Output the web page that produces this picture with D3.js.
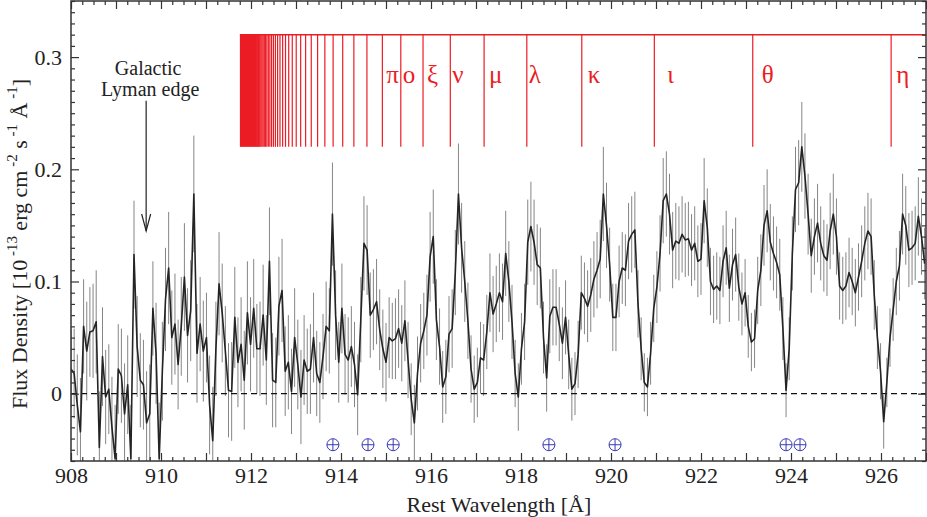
<!DOCTYPE html>
<html>
<head>
<meta charset="utf-8">
<script src="https://cdn.jsdelivr.net/npm/d3@7"></script>
<style>
body { margin: 0; background: #fff; }
svg { display: block; font-family: "Liberation Serif", "Times New Roman", serif; }
.axis path { display: none; }
.axis line { stroke: #333; stroke-width: 1.2; }
.axis text { font-size: 22px; fill: #222; font-family: "Liberation Serif", serif; }
</style>
</head>
<body>
<svg width="927" height="517"></svg>
<script>
// spectrum bins: 0.07 A wide starting at 908.0 A
// flux and error in units of 0.001 on the y axis (1e-16 erg/cm2/s/A)
var waveStart = 908.0, waveStep = 0.07;
var flux = [
  22, 18, -10, -34, 60, 38, 55, 56, 64, -48,
  33, -3, 4, -30, -58, 22, 16, -18, 8, -58,
  124, 42, 12, 8, -26, -18, 76, 36, -58, 20,
  84, 112, 50, 62, 26, 60, 104, 52, 74, 178,
  36, 62, 38, 50, -10, -42, 40, 98, 72, 38,
  3, 2, 68, 28, 44, 12, 72, 44, 76, 40,
  40, 70, 30, 118, 12, 10, 78, 92, 20, 28,
  2, 50, 26, -3, 30, 20, 22, 50, 18, 10,
  33, 60, 56, 160, 70, 28, 76, 35, 30, 42,
  26, -1, 66, 134, 128, 70, 75, 82, 57, 40,
  28, 50, 47, 49, 58, 45, 65, 30, -5, -26,
  18, 45, 56, 70, 122, 140, 66, 42, 6, 15,
  53, 58, 108, 178, 130, 100, 65, 22, 4, 10,
  32, 30, 55, 90, 71, 80, 90, 82, 125, 100,
  64, 18, -3, 40, 64, 135, 149, 135, 115, 112,
  50, 14, 69, 77, 77, 62, 45, 68, 35, 4,
  9, 35, 90, 85, 78, 88, 102, 110, 120, 178,
  150, 115, 68, 68, 100, 112, 110, 136, 142, 146,
  80, 40, 10, 6, 36, 76, 95, 125, 172, 178,
  160, 128, 136, 134, 142, 137, 138, 128, 134, 118,
  120, 172, 148, 100, 93, 96, 92, 118, 130, 94,
  115, 124, 95, 80, 90, 60, 46, 49, 92, 110,
  150, 163, 135, 125, 117, 106, 58, 3, 40, 125,
  182, 188, 220, 194, 160, 123, 140, 152, 134, 123,
  119, 145, 160, 140, 96, 92, 96, 108, 100, 90,
  104, 118, 134, 145, 140, 88, 50, 20, -25, 10,
  50, 75, 100, 114, 160, 150, 128, 130, 134, 158,
  140, 116
];
var fluxErr = [
  35, 40, 45, 48, 42, 44, 40, 42, 46, 50,
  44, 42, 40, 45, 48, 40, 42, 45, 44, 48,
  48, 45, 42, 40, 46, 44, 42, 45, 50, 44,
  46, 50, 42, 45, 40, 44, 48, 42, 45, 52,
  44, 42, 45, 40, 44, 48, 42, 46, 44, 40,
  42, 44, 45, 40, 42, 44, 46, 42, 44, 40,
  42, 45, 40, 48, 42, 40, 44, 46, 40, 42,
  38, 44, 40, 42, 40, 38, 40, 40, 38, 36,
  38, 40, 38, 46, 40, 36, 40, 36, 38, 36,
  38, 36, 38, 42, 40, 38, 36, 38, 36, 35,
  35, 36, 34, 36, 35, 34, 36, 34, 32, 34,
  33, 35, 34, 36, 40, 42, 36, 34, 32, 33,
  34, 35, 38, 45, 40, 36, 34, 30, 30, 31,
  32, 32, 33, 35, 34, 34, 35, 34, 38, 36,
  33, 30, 30, 32, 34, 38, 40, 38, 36, 36,
  32, 30, 33, 34, 34, 33, 32, 33, 31, 28,
  28, 30, 33, 32, 32, 33, 34, 34, 35, 42,
  38, 33, 30, 30, 32, 32, 32, 34, 34, 34,
  30, 28, 26, 26, 28, 30, 32, 34, 38, 38,
  36, 34, 34, 33, 34, 33, 33, 32, 33, 32,
  32, 38, 35, 30, 30, 30, 30, 32, 33, 30,
  32, 33, 30, 28, 30, 28, 26, 26, 30, 32,
  36, 37, 34, 33, 32, 32, 28, 24, 28, 33,
  38, 38, 40, 38, 36, 33, 34, 35, 33, 32,
  32, 34, 36, 34, 30, 30, 30, 31, 30, 30,
  30, 32, 33, 34, 34, 31, 28, 25, 24, 22,
  26, 28, 30, 31, 36, 35, 33, 33, 33, 35,
  34, 32
];

// Lyman series (rest wavelengths, A), n = 8 .. 50, and the series limit
var lymanLimit = 911.753;
var lymanLines = [
  926.225, 923.150, 920.963, 919.351, 918.129, 917.180, 916.429, 915.823, 915.329, 914.919,
  914.576, 914.286, 914.038, 913.825, 913.641, 913.480, 913.339, 913.214, 913.104, 913.005,
  912.917, 912.838, 912.767, 912.703, 912.644, 912.591, 912.542, 912.498, 912.457, 912.419,
  912.385, 912.353, 912.323, 912.296, 912.270, 912.246, 912.224, 912.203, 912.184, 912.166,
  912.149, 912.133, 912.118
];
var lymanNames = ["η", "θ", "ι", "κ", "λ", "μ", "ν", "ξ", "ο", "π"];
var lymanTop = 0.32, lymanBottom = 0.22;

// terrestrial (⊕) features
var earthWaves = [913.82, 914.60, 915.16, 918.62, 920.09, 923.89, 924.20];
var earthLevel = -0.0455;

// Galactic Lyman edge arrow
var edgeWave = 909.67, edgeArrowTop = 0.261, edgeArrowTip = 0.145;

var xTicks = [908, 910, 912, 914, 916, 918, 920, 922, 924, 926];
var yTicks = [0, 0.1, 0.2, 0.3];

var serif = "'Liberation Serif', 'Times New Roman', serif";

var svg = d3.select("svg"),
    margin = {top: 1, right: 1, bottom: 56, left: 71},
    width = +svg.attr("width") - margin.left - margin.right,
    height = +svg.attr("height") - margin.top - margin.bottom;

var x = d3.scaleLinear().domain([908, 927]).range([margin.left, margin.left + width]),
    y = d3.scaleLinear().domain([-0.06, 0.35]).range([margin.top + height, margin.top]);

var spec = flux.map(function(f, i) {
  return {w: waveStart + i * waveStep, f: f / 1000, e: fluxErr[i] / 1000};
});

svg.append("clipPath").attr("id", "plotclip")
  .append("rect")
    .attr("x", margin.left).attr("y", margin.top)
    .attr("width", width).attr("height", height);

var plot = svg.append("g").attr("clip-path", "url(#plotclip)");

// error bars
plot.selectAll(".err")
  .data(spec)
  .enter().append("line")
    .attr("class", "err")
    .attr("x1", function(d) { return x(d.w); })
    .attr("x2", function(d) { return x(d.w); })
    .attr("y1", function(d) { return y(d.f - d.e); })
    .attr("y2", function(d) { return y(d.f + d.e); })
    .attr("stroke", "#858585")
    .attr("stroke-width", 1);

// zero line
plot.append("line")
    .attr("x1", x(908)).attr("x2", x(927))
    .attr("y1", y(0)).attr("y2", y(0))
    .attr("stroke", "#111")
    .attr("stroke-width", 1.2)
    .attr("stroke-dasharray", "6,4");

// spectrum
plot.append("path")
    .datum(spec)
    .attr("fill", "none")
    .attr("stroke", "#242424")
    .attr("stroke-width", 1.6)
    .attr("stroke-linejoin", "round")
    .attr("d", d3.line().x(function(d) { return x(d.w); }).y(function(d) { return y(d.f); }));

// Lyman series markers
var red = "#ec1c24";
var lym = svg.append("g");
lym.append("rect")
    .attr("x", x(lymanLimit))
    .attr("y", y(lymanTop))
    .attr("width", x(lymanLines[lymanLines.length - 1]) - x(lymanLimit))
    .attr("height", y(lymanBottom) - y(lymanTop))
    .attr("fill", red);
lym.selectAll(".lyl")
  .data(lymanLines)
  .enter().append("line")
    .attr("x1", function(d) { return x(d); })
    .attr("x2", function(d) { return x(d); })
    .attr("y1", y(lymanTop))
    .attr("y2", y(lymanBottom))
    .attr("stroke", red)
    .attr("stroke-width", 1.2);
lym.append("line")
    .attr("x1", x(lymanLimit)).attr("x2", x(927))
    .attr("y1", y(lymanTop)).attr("y2", y(lymanTop))
    .attr("stroke", red)
    .attr("stroke-width", 1.5);
var greekDx = [5, 9, 13, 6, 2, 5, 2, 4, 2, 4];
lym.selectAll(".lyt")
  .data(lymanNames)
  .enter().append("text")
    .attr("x", function(d, i) { return x(lymanLines[i]) + greekDx[i]; })
    .attr("y", 83)
    .attr("fill", red)
    .attr("font-family", serif)
    .style("font-size", "25px")
    .text(function(d) { return d; });

// terrestrial symbols
var earth = svg.append("g").attr("stroke", "#3b3bb5").attr("stroke-width", 1).attr("fill", "none");
earthWaves.forEach(function(w) {
  var cx = x(w), cy = y(earthLevel), r = 6;
  earth.append("circle").attr("cx", cx).attr("cy", cy).attr("r", r);
  earth.append("line").attr("x1", cx - r).attr("x2", cx + r).attr("y1", cy).attr("y2", cy);
  earth.append("line").attr("x1", cx).attr("x2", cx).attr("y1", cy - r).attr("y2", cy + r);
});

// Galactic Lyman edge annotation
var ax = x(edgeWave);
svg.append("line")
    .attr("x1", ax).attr("x2", ax)
    .attr("y1", y(edgeArrowTop)).attr("y2", y(edgeArrowTip))
    .attr("stroke", "#222").attr("stroke-width", 1.2);
svg.append("path")
    .attr("d", "M" + (ax - 4.5) + "," + (y(edgeArrowTip) - 17) + "L" + ax + "," + y(edgeArrowTip) + "L" + (ax + 4.5) + "," + (y(edgeArrowTip) - 17))
    .attr("fill", "none").attr("stroke", "#222").attr("stroke-width", 1.2);
svg.append("text").attr("x", ax + 2).attr("y", 75).attr("text-anchor", "middle")
    .attr("font-family", serif)
    .style("font-size", "20px").attr("fill", "#222").text("Galactic");
svg.append("text").attr("x", ax + 4).attr("y", 96).attr("text-anchor", "middle")
    .attr("font-family", serif)
    .style("font-size", "20px").attr("fill", "#222").text("Lyman edge");

// axes (ticks point inward on all four sides)
var xMinor = d3.range(908 * 4, 927 * 4 + 1).map(function(k) { return k / 4; })
    .filter(function(v) { return v % 1 !== 0; });
var xMajor = d3.range(908, 928);
var yMinor = d3.range(-6, 36).map(function(k) { return k / 100; })
    .filter(function(v) { return Math.round(v * 100) % 10 !== 0; });

function axisGroup(tx, ty) {
  return svg.append("g").attr("class", "axis")
      .attr("transform", "translate(" + tx + "," + ty + ")");
}

axisGroup(0, margin.top + height)
    .call(d3.axisBottom(x).tickValues(xMajor).tickSize(-8).tickPadding(6)
      .tickFormat(function(d) { return xTicks.indexOf(d) >= 0 ? d : ""; }));
axisGroup(0, margin.top + height)
    .call(d3.axisBottom(x).tickValues(xMinor).tickSize(-4).tickFormat(""));
axisGroup(0, margin.top)
    .call(d3.axisTop(x).tickValues(xMajor).tickSize(-8).tickFormat(""));
axisGroup(0, margin.top)
    .call(d3.axisTop(x).tickValues(xMinor).tickSize(-4).tickFormat(""));

axisGroup(margin.left, 0)
    .call(d3.axisLeft(y).tickValues(yTicks).tickSize(-8).tickPadding(9)
      .tickFormat(function(d) { return d === 0 ? "0" : d3.format(".1f")(d); }));
axisGroup(margin.left, 0)
    .call(d3.axisLeft(y).tickValues(yMinor).tickSize(-4).tickFormat(""));
axisGroup(margin.left + width, 0)
    .call(d3.axisRight(y).tickValues(yTicks).tickSize(-8).tickFormat(""));
axisGroup(margin.left + width, 0)
    .call(d3.axisRight(y).tickValues(yMinor).tickSize(-4).tickFormat(""));

svg.selectAll(".axis").attr("font-family", serif).attr("font-size", 22);
svg.selectAll(".axis text").attr("font-family", serif);

// frame
svg.append("rect")
    .attr("x", margin.left).attr("y", margin.top)
    .attr("width", width).attr("height", height)
    .attr("fill", "none").attr("stroke", "#333").attr("stroke-width", 1.5);

// axis titles
svg.append("text")
    .attr("x", 499).attr("y", 512)
    .attr("text-anchor", "middle")
    .attr("font-family", serif)
    .style("font-size", "22px").attr("fill", "#222")
    .text("Rest Wavelength [Å]");

var yl = svg.append("text")
    .attr("transform", "translate(27,244) rotate(-90)")
    .attr("text-anchor", "middle")
    .attr("font-family", serif)
    .style("font-size", "22px").attr("fill", "#222");
yl.append("tspan").text("Flux Density [10");
yl.append("tspan").attr("dy", -10).style("font-size", "15px").text(" -13");
yl.append("tspan").attr("dy", 10).text(" erg cm");
yl.append("tspan").attr("dy", -10).style("font-size", "15px").text(" -2");
yl.append("tspan").attr("dy", 10).text("  s");
yl.append("tspan").attr("dy", -10).style("font-size", "15px").text(" -1");
yl.append("tspan").attr("dy", 10).text("   Å");
yl.append("tspan").attr("dy", -10).style("font-size", "15px").text(" -1");
yl.append("tspan").attr("dy", 10).text("]");
</script>
</body>
</html>
